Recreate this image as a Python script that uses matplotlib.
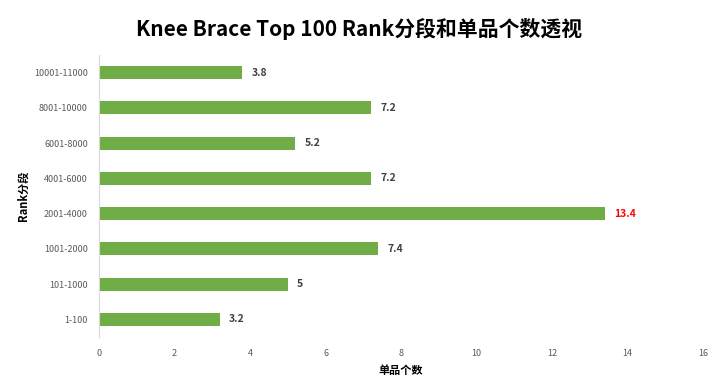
import matplotlib.pyplot as plt

plt.rcParams['font.family'] = ['Noto Sans CJK SC', 'DejaVu Sans']

# data, bottom to top as drawn
ranks = ["1-100", "101-1000", "1001-2000", "2001-4000", "4001-6000",
         "6001-8000", "8001-10000", "10001-11000"]
counts = [3.2, 5, 7.4, 13.4, 7.2, 5.2, 7.2, 3.8]
x_ticks = [0, 2, 4, 6, 8, 10, 12, 14, 16]

fig = plt.figure(figsize=(7.18, 3.88), dpi=100)
ax = fig.add_axes([99 / 718, 1 - 337 / 388, 604 / 718, 282 / 388])

ypos = list(range(len(ranks)))
ax.barh(ypos, counts, height=0.37, color="#70AD47")

top = max(counts)
for y, v in zip(ypos, counts):
    color = "#FF0000" if v == top else "#404040"
    ax.text(v + 0.25, y, f"{v:g}", va="center", ha="left",
            fontsize=7.5, fontweight="bold", color=color)

ax.set_xlim(0, 16)
ax.set_ylim(-0.5, len(ranks) - 0.5)
ax.set_xticks(x_ticks)
ax.set_xticklabels([str(t) for t in x_ticks])
ax.set_yticks(ypos)
ax.set_yticklabels(ranks)
ax.tick_params(axis="both", length=0, labelsize=6.5, labelcolor="#595959")
ax.tick_params(axis="x", pad=9)
ax.tick_params(axis="y", pad=8)

for side in ["top", "right", "bottom"]:
    ax.spines[side].set_visible(False)
ax.spines["left"].set_color("#D9D9D9")

ax.set_xlabel("单品个数", fontsize=8, fontweight="bold", labelpad=4)
ax.set_ylabel("Rank分段", fontsize=8, fontweight="bold", labelpad=3)
fig.suptitle("Knee Brace Top 100 Rank分段和单品个数透视", fontsize=15,
             fontweight="bold", y=0.955)

fig.savefig("out.png", dpi=100)
